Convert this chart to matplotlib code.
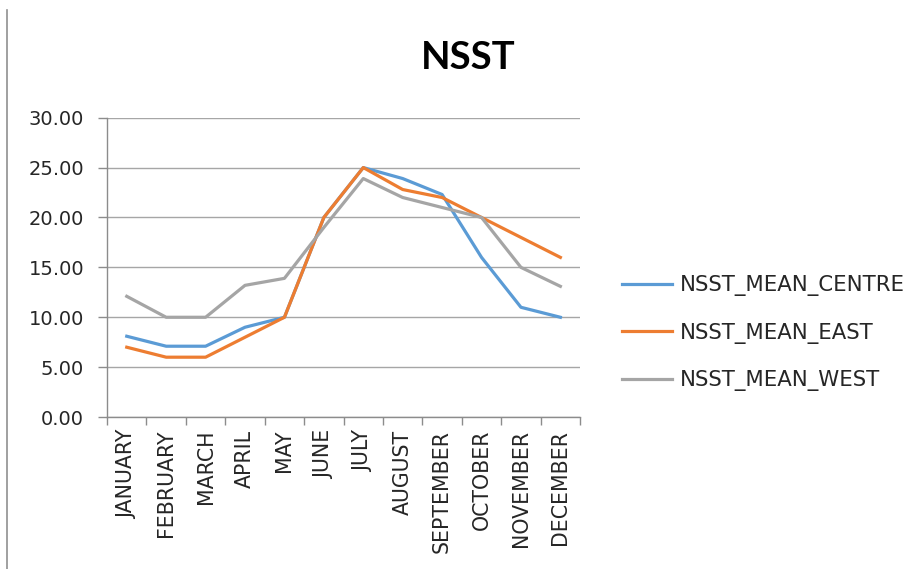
import numpy as np
import matplotlib.pyplot as plt
from matplotlib.lines import Line2D

plt.rcParams['font.family'] = ['DejaVu Sans']

months = ['JANUARY', 'FEBRUARY', 'MARCH', 'APRIL', 'MAY', 'JUNE', 'JULY',
          'AUGUST', 'SEPTEMBER', 'OCTOBER', 'NOVEMBER', 'DECEMBER']
centre = [8.1, 7.1, 7.1, 9.0, 10.0, 20.0, 25.0, 23.9, 22.3, 16.0, 11.0, 10.0]
east = [7.0, 6.0, 6.0, 8.0, 10.0, 20.0, 25.0, 22.8, 22.0, 20.0, 18.0, 16.0]
west = [12.1, 10.0, 10.0, 13.2, 13.9, 19.0, 23.9, 22.0, 21.0, 20.0, 15.0, 13.1]

fig = plt.figure(figsize=(9.18, 5.69), dpi=100)
ax = fig.add_axes([0.1166, 0.267, 0.5153, 0.5262])

x = np.arange(len(months))
ax.plot(x, centre, color='#5B9BD5', lw=2.3, label='NSST_MEAN_CENTRE')
ax.plot(x, east, color='#ED7D31', lw=2.3, label='NSST_MEAN_EAST')
ax.plot(x, west, color='#A5A5A5', lw=2.3, label='NSST_MEAN_WEST')

ax.set_xlim(-0.5, 11.5)
ax.set_ylim(0, 30)
ax.set_yticks(np.arange(0, 31, 5))
ax.set_yticklabels(['%.2f' % v for v in np.arange(0, 31, 5)], fontsize=14,
                   color='#262626')
ax.yaxis.grid(True, color='#a6a6a6', lw=1.0)
ax.set_axisbelow(True)

# category boundaries get the tick marks, names sit between them
ax.set_xticks(np.arange(-0.5, 12, 1))
ax.set_xticklabels([])
ax.set_xticks(x, minor=True)
ax.set_xticklabels(months, minor=True, rotation=90, fontsize=14.8,
                   color='#262626')
ax.tick_params(axis='x', which='major', length=5.5, color='#8c8c8c', width=1)
ax.tick_params(axis='x', which='minor', length=0, pad=9)
ax.tick_params(axis='y', length=6.5, color='#8c8c8c', width=1, pad=10)

for s in ['top', 'right']:
    ax.spines[s].set_visible(False)
for s in ['left', 'bottom']:
    ax.spines[s].set_color('#8c8c8c')
    ax.spines[s].set_linewidth(1.0)

fig.text(0.5098, 0.898, 'NSST', fontsize=27.5, fontweight='bold',
         family='Lato', ha='center', va='center')

ax.legend(loc='center left', bbox_to_anchor=(0.6776, 0.4145),
          bbox_transform=fig.transFigure, frameon=False,
          fontsize=15.3, handlelength=2.35, handletextpad=0.38,
          labelspacing=1.24, borderpad=0, borderaxespad=0,
          labelcolor='#262626')

fig.add_artist(Line2D([0.008, 0.008], [0, 0.982], color='#909090', lw=1.2))

fig.savefig('out.png', dpi=100)
